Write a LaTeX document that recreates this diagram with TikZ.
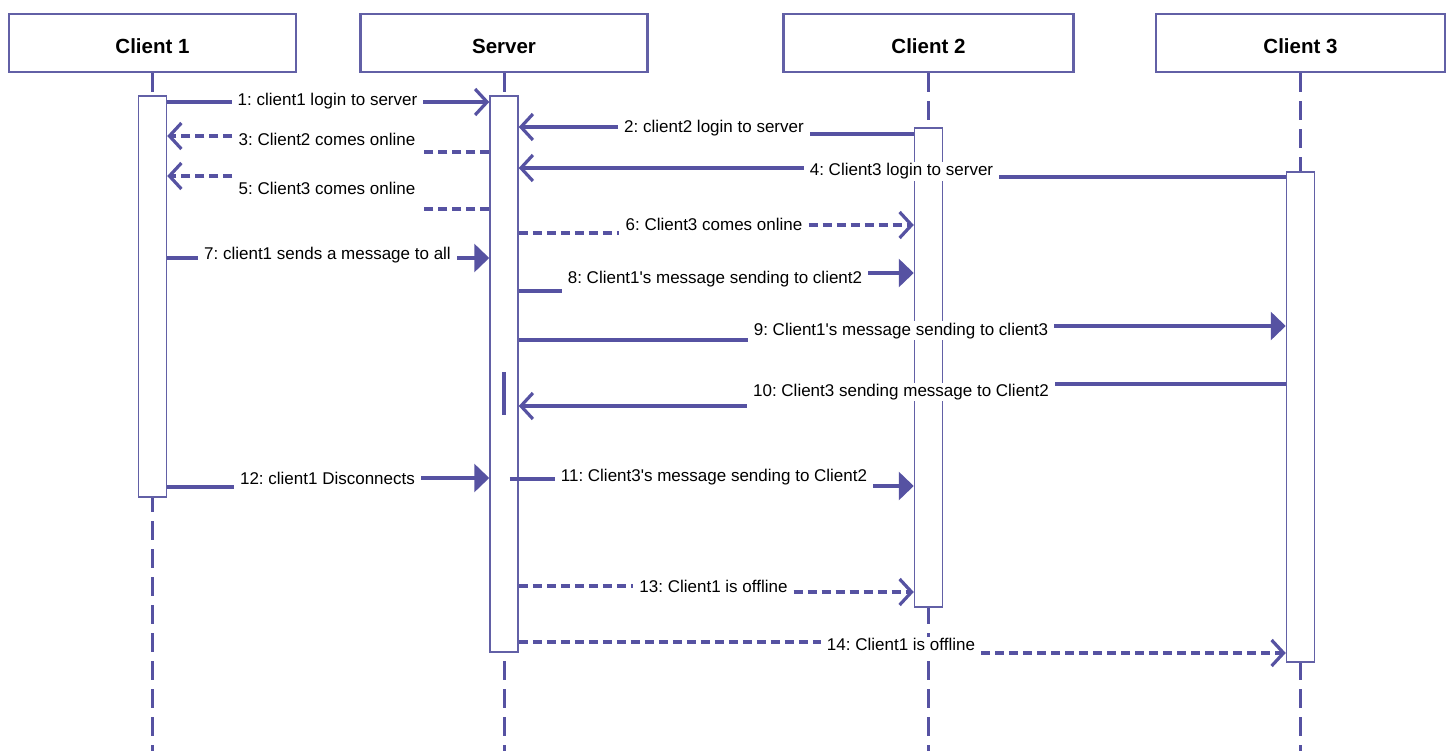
\documentclass[tikz,border=0pt]{standalone}
\usepackage{fontspec}
\setmainfont{Liberation Sans}
\usetikzlibrary{arrows.meta}
\definecolor{umlline}{RGB}{86,82,162}
\definecolor{umlbox}{RGB}{98,96,166}
\frenchspacing

\begin{document}
\begin{tikzpicture}[x=1pt,y=-1pt,
  head/.style={draw=umlbox, line width=2.8pt, fill=white, minimum width=287pt,
    minimum height=58pt, inner sep=0pt, text height=21.3pt, text depth=0pt,
    font=\fontsize{20.5}{24}\selectfont\bfseries},
  life/.style={draw=umlline, line width=3pt, dash pattern=on 19pt off 9pt},
  actbar/.style={draw=umlbox, line width=1.5pt, fill=white, minimum width=28pt, inner sep=0pt},
  lbl/.style={anchor=base, fill=white, inner xsep=6pt, inner ysep=1pt,
    text height=12.5pt, text depth=4pt, font=\fontsize{17}{20}\selectfont},
  msg/.style={draw=umlline, line width=3.2pt},
  reply/.style={msg, dash pattern=on 9pt off 5pt},
  filltip/.style={-{Triangle[length=15pt,width=28pt]}},
  opentip/.style={-{Straight Barb[length=12pt,width=26pt]}},
]
\useasboundingbox (0,0) rectangle (1454,751);

% participants
\node[head] (c1) at (152.5,43) {Client 1};
\node[head] (sv) at (504,43) {Server};
\node[head, minimum width=290pt] (c2) at (928.5,43) {Client 2};
\node[head, minimum width=289pt] (c3) at (1300.5,43) {Client 3};

% lifelines
\foreach \h in {c1,sv,c2,c3}
  \draw[life] (\h.south) -- (\h.south |- 0,751);

% activation bars
\node[actbar, minimum height=401pt] (a1) at (c1.south |- 0,296.5) {};
\node[actbar, minimum height=556pt] (as) at (sv.south |- 0,374) {};
\node[actbar, minimum height=479pt] (a2) at (c2.south |- 0,367.5) {};
\node[actbar, minimum height=490pt] (a3) at (c3.south |- 0,417) {};

% 1
\node[lbl] (m1) at (327.5,106) {1: client1 login to server};
\draw[msg] (a1.east |- 0,102) -- (m1.west |- 0,102);
\draw[msg,opentip] (m1.east |- 0,102) -- (as.west |- 0,102);
% 2
\node[lbl] (m2) at (714,133) {2: client2 login to server};
\draw[msg] (a2.west |- 0,134) -- (m2.east |- 0,134);
\draw[msg,opentip] (m2.west |- 0,127) -- (as.east |- 0,127);
% 3
\node[lbl] (m3) at (327,146) {3: Client2 comes online};
\draw[reply] (as.west |- 0,152) -- (m3.east |- 0,152);
\draw[reply,opentip] (m3.west |- 0,136) -- (a1.east |- 0,136);
% 4
\node[lbl] (m4) at (901.5,176) {4: Client3 login to server};
\draw[msg] (a3.west |- 0,177) -- (m4.east |- 0,177);
\draw[msg,opentip] (m4.west |- 0,168) -- (as.east |- 0,168);
% 5
\node[lbl] (m5) at (327,195) {5: Client3 comes online};
\draw[reply] (as.west |- 0,209) -- (m5.east |- 0,209);
\draw[reply,opentip] (m5.west |- 0,176) -- (a1.east |- 0,176);
% 6
\node[lbl] (m6) at (714,231) {6: Client3 comes online};
\draw[reply] (as.east |- 0,233) -- (m6.west |- 0,233);
\draw[reply,opentip] (m6.east |- 0,225) -- (a2.west |- 0,225);
% 7
\node[lbl] (m7) at (327.5,260) {7: client1 sends a message to all};
\draw[msg] (a1.east |- 0,258) -- (m7.west |- 0,258);
\draw[msg,filltip] (m7.east |- 0,258) -- (as.west |- 0,258);
% 8
\node[lbl] (m8) at (715,284) {8: Client1\textquotesingle s message sending to client2};
\draw[msg] (as.east |- 0,291) -- (m8.west |- 0,291);
\draw[msg,filltip] (m8.east |- 0,273) -- (a2.west |- 0,273);
% 9
\node[lbl] (m9) at (901,335) {9: Client1\textquotesingle s message sending to client3};
\draw[msg] (as.east |- 0,340) -- (m9.west |- 0,340);
\draw[msg,filltip] (m9.east |- 0,326) -- (a3.west |- 0,326);
% 10
\node[lbl] (m10) at (901,396) {10: Client3 sending message to Client2};
\draw[msg] (a3.west |- 0,384) -- (m10.east |- 0,384);
\draw[msg,opentip] (m10.west |- 0,406) -- (as.east |- 0,406);
\draw[msg] (as.center |- 0,372) -- (as.center |- 0,415);
% 11
\node[lbl] (m11) at (714,481) {11: Client3\textquotesingle s message sending to Client2};
\draw[msg] ([xshift=-9pt]as.east |- 0,479) -- (m11.west |- 0,479);
\draw[msg,filltip] (m11.east |- 0,486) -- (a2.west |- 0,486);
% 12
\node[lbl] (m12) at (327.5,484) {12: client1 Disconnects};
\draw[msg] (a1.east |- 0,487) -- (m12.west |- 0,487);
\draw[msg,filltip] (m12.east |- 0,478) -- (as.west |- 0,478);
% 13
\node[lbl] (m13) at (713.5,592) {13: Client1 is offline};
\draw[reply] (as.east |- 0,586) -- (m13.west |- 0,586);
\draw[reply,opentip] (m13.east |- 0,592) -- (a2.west |- 0,592);
% 14
\node[lbl] (m14) at (901,650) {14: Client1 is offline};
\draw[reply] (as.east |- 0,642) -- (m14.west |- 0,642);
\draw[reply,opentip] (m14.east |- 0,653) -- (a3.west |- 0,653);
\end{tikzpicture}
\end{document}
